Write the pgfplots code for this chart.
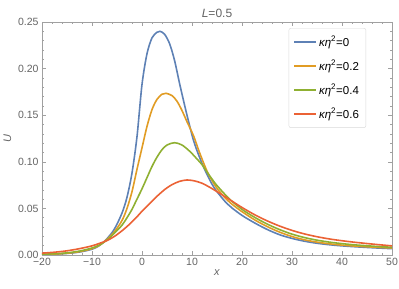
\documentclass[border=0pt]{standalone}
\usepackage{fontspec}
\setmainfont{Liberation Sans}
\usepackage{pgfplots}
\usepackage{pgfplotstable}
\pgfplotsset{compat=1.18}
\definecolor{mblue}{RGB}{94,129,181}
\definecolor{morange}{RGB}{225,156,36}
\definecolor{mgreen}{RGB}{143,176,50}
\definecolor{mred}{RGB}{235,98,53}
\definecolor{framegray}{RGB}{160,160,160}
\definecolor{labgray}{RGB}{100,100,100}

\pgfplotstableread{
x y
-20 0.0005
-17.5 0.0009
-15 0.0017
-12.5 0.0032
-10 0.0062
-8.5 0.0102
-7 0.0175
-5.5 0.028
-4 0.045
-3 0.062
-2 0.088
-1 0.127
0 0.183
1 0.216
2 0.233
3 0.239
3.6 0.240
4.5 0.237
5.5 0.227
6.5 0.209
7.6 0.182
9 0.150
10.3 0.123
11.5 0.105
12.6 0.091
14 0.076
15 0.068
16.6 0.0575
18 0.0505
20 0.0425
22.5 0.0345
25 0.0275
27.5 0.0218
30 0.0178
32.5 0.0148
35 0.0126
37.5 0.0110
40 0.0098
42.5 0.0089
45 0.0081
47.5 0.0074
50 0.0068
}\tblA

\pgfplotstableread{
x y
-20 0.0006
-17.5 0.0010
-15 0.0019
-12.5 0.0036
-10 0.0068
-8.5 0.0105
-7 0.0168
-5.5 0.025
-4 0.037
-3 0.050
-2 0.068
-1 0.092
0 0.115
1 0.138
2 0.156
3 0.167
4 0.1725
4.8 0.1735
6 0.171
7 0.165
8 0.155
9 0.143
10.3 0.128
11.5 0.110
13 0.090
14 0.080
15 0.0715
16.5 0.0620
18 0.0545
20 0.0465
22.5 0.0378
25 0.0306
27.5 0.0246
30 0.0198
32.5 0.0163
35 0.0138
37.5 0.0120
40 0.0106
42.5 0.0096
45 0.0088
47.5 0.0081
50 0.0075
}\tblB

\pgfplotstableread{
x y
-20 0.0008
-17.5 0.0013
-15 0.0023
-12.5 0.0042
-10 0.0075
-8.5 0.0108
-7 0.016
-5.5 0.0235
-4 0.032
-3 0.040
-2 0.049
-1 0.060
0 0.071
1 0.083
2 0.095
3 0.105
4 0.113
5 0.118
6.5 0.1205
8 0.118
9.6 0.111
11 0.103
12 0.097
13 0.089
14 0.0815
15 0.0745
17.5 0.060
20 0.049
22.5 0.0405
25 0.0333
27.5 0.0273
30 0.0224
32.5 0.0187
35 0.0159
37.5 0.0138
40 0.0122
42.5 0.0109
45 0.0099
47.5 0.0090
50 0.0083
}\tblC

\pgfplotstableread{
x y
-20 0.0020
-17.5 0.0030
-15 0.0045
-12.5 0.0068
-10 0.0098
-8.5 0.0125
-7 0.0155
-5.5 0.020
-4 0.026
-2.5 0.033
-1 0.041
0 0.047
1.5 0.055
3 0.063
4.6 0.0705
6 0.0755
7.5 0.0790
9 0.0805
10.5 0.0795
12 0.0770
13.6 0.0725
15 0.0680
17.5 0.0595
20 0.0510
22.5 0.0433
25 0.0367
27.5 0.0311
30 0.0264
32.5 0.0226
35 0.0196
37.5 0.0172
40 0.0153
42.5 0.0137
45 0.0123
47.5 0.0110
50 0.0098
}\tblD

\begin{document}
\begin{tikzpicture}
\begin{axis}[
  at={(0,0)}, anchor=south west,
  scale only axis, width=350pt, height=233pt,
  xmin=-20, xmax=50, ymin=0, ymax=0.25,
  axis line style={framegray, line width=0.6pt},
  tick align=inside,
  major tick length=4pt, minor tick length=2.3pt,
  every tick/.style={framegray, line width=0.5pt},
  xtick={-20,-10,...,50},
  xticklabels={−20,−10,0,10,20,30,40,50},
  minor x tick num=4,
  ytick={0,0.05,...,0.25},
  yticklabels={0.00,0.05,0.10,0.15,0.20,0.25},
  minor y tick num=4,
  tick label style={font=\fontsize{10.5}{12}\selectfont, text=labgray},
  xlabel={\textit{x}}, ylabel={\textit{U}},
  label style={font=\fontsize{11}{13}\selectfont, text=labgray},
  xlabel style={yshift=3pt},
  ylabel style={yshift=0pt},
  title={\textit{L}=0.5},
  title style={font=\fontsize{12}{14}\selectfont, text=labgray, yshift=-5pt},
  legend style={at={(0.926,0.974)}, anchor=north east, draw=black!15,
    rounded corners=2pt, font=\fontsize{11.5}{14}\selectfont,
    row sep=8.5pt, inner xsep=5pt, inner ysep=6pt},
  legend cell align=left,
  legend image code/.code={\draw[#1, line width=1.2pt] (0pt,0pt) -- (22pt,0pt);},
  every axis plot/.append style={line width=1.6pt, smooth},
]
\addplot[mblue] table[x=x,y=y] {\tblA};
\addplot[morange] table[x=x,y=y] {\tblB};
\addplot[mgreen] table[x=x,y=y] {\tblC};
\addplot[mred] table[x=x,y=y] {\tblD};
\legend{\textit{κη}\textsuperscript{2}=0,\textit{κη}\textsuperscript{2}=0.2,\textit{κη}\textsuperscript{2}=0.4,\textit{κη}\textsuperscript{2}=0.6}
\end{axis}
\pgfresetboundingbox
\path (-42pt,-34pt) rectangle (357pt,255pt);
\end{tikzpicture}
\end{document}
